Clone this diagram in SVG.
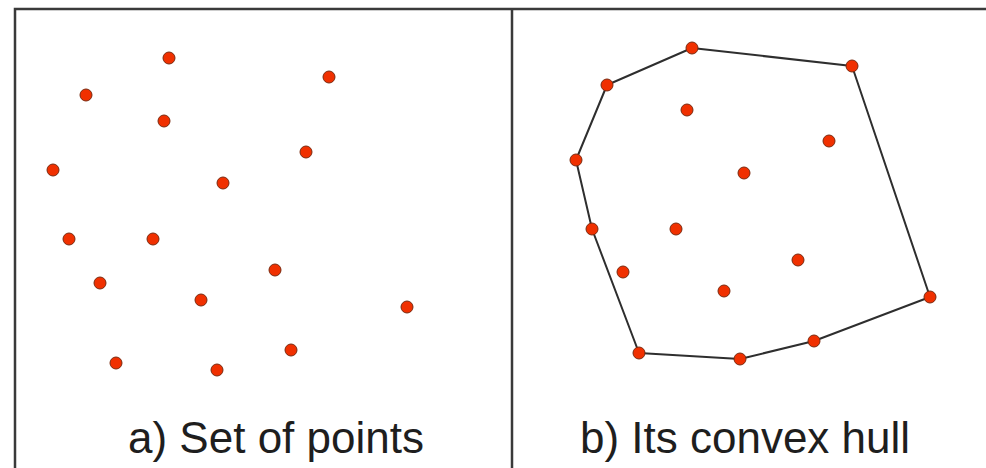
<svg xmlns="http://www.w3.org/2000/svg" width="986" height="468" viewBox="0 0 986 468">
<style>
.frame{stroke:#3a3a3a;stroke-width:2.5;fill:none}
.pt{fill:#f03000;stroke:#7a2a10;stroke-width:1}
.hull{stroke:#2e2e2e;stroke-width:2;fill:none;stroke-linejoin:round}
.lbl{font-family:"Liberation Sans",Arial,sans-serif;font-size:44px;fill:#1e1e1e;text-anchor:middle}
</style>
<rect width="986" height="468" fill="#fff"/>
<g id="frame">
<path class="frame" d="M15,470 V9 H988"/>
<path class="frame" d="M512,9 V470"/>
</g>
<g id="connectors">
<polygon class="hull" points="607,85 692,48 852,66 930,297 814,341 740,359 639,353 592,229 576,160"/>
</g>
<g id="left-points">
<circle class="pt" cx="169" cy="58" r="6"/>
<circle class="pt" cx="86" cy="95" r="6"/>
<circle class="pt" cx="329" cy="77" r="6"/>
<circle class="pt" cx="164" cy="121" r="6"/>
<circle class="pt" cx="53" cy="170" r="6"/>
<circle class="pt" cx="306" cy="152" r="6"/>
<circle class="pt" cx="223" cy="183" r="6"/>
<circle class="pt" cx="69" cy="239" r="6"/>
<circle class="pt" cx="153" cy="239" r="6"/>
<circle class="pt" cx="275" cy="270" r="6"/>
<circle class="pt" cx="100" cy="283" r="6"/>
<circle class="pt" cx="201" cy="300" r="6"/>
<circle class="pt" cx="407" cy="307" r="6"/>
<circle class="pt" cx="116" cy="363" r="6"/>
<circle class="pt" cx="217" cy="370" r="6"/>
<circle class="pt" cx="291" cy="350" r="6"/>
</g>
<g id="right-points">
<circle class="pt" cx="607" cy="85" r="6"/>
<circle class="pt" cx="692" cy="48" r="6"/>
<circle class="pt" cx="852" cy="66" r="6"/>
<circle class="pt" cx="930" cy="297" r="6"/>
<circle class="pt" cx="814" cy="341" r="6"/>
<circle class="pt" cx="740" cy="359" r="6"/>
<circle class="pt" cx="639" cy="353" r="6"/>
<circle class="pt" cx="592" cy="229" r="6"/>
<circle class="pt" cx="576" cy="160" r="6"/>
<circle class="pt" cx="687" cy="110" r="6"/>
<circle class="pt" cx="829" cy="141" r="6"/>
<circle class="pt" cx="744" cy="173" r="6"/>
<circle class="pt" cx="676" cy="229" r="6"/>
<circle class="pt" cx="623" cy="272" r="6"/>
<circle class="pt" cx="798" cy="260" r="6"/>
<circle class="pt" cx="724" cy="291" r="6"/>
</g>
<g id="labels">
<text class="lbl" x="276" y="453">a) Set of points</text>
<text class="lbl" x="745" y="453">b) Its convex hull</text>
</g>
</svg>
